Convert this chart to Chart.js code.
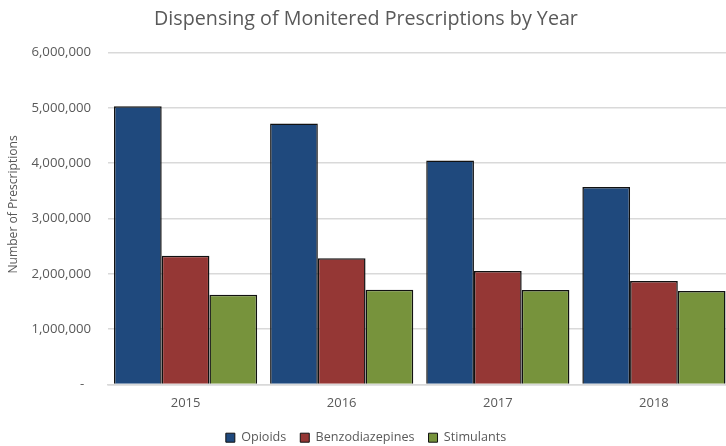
<!DOCTYPE html>
<html>
<head>
<meta charset="utf-8">
<script src="https://cdn.jsdelivr.net/npm/chart.js@4"></script>
<style>
  html, body { margin: 0; padding: 0; background: #fff; overflow: hidden; }
  #wrap { width: 726px; height: 446px; overflow: hidden; }
</style>
</head>
<body>
<div id="wrap">
  <canvas id="rxChart" width="732" height="454"></canvas>
</div>
<script>
// ==== Data ====
const years = ['2015', '2016', '2017', '2018'];
const opioids = [5030000, 4720000, 4050000, 3570000];
const benzodiazepines = [2325000, 2280000, 2050000, 1870000];
const stimulants = [1620000, 1710000, 1705000, 1690000];

const yTicks = [0, 1000000, 2000000, 3000000, 4000000, 5000000, 6000000];

// ==== Warna & font ====
const textColor = '#595959';
const gridColor = '#d9d9d9';
const fontFamily = '"Open Sans", "DejaVu Sans", sans-serif';

const ctx = document.getElementById('rxChart').getContext('2d');

new Chart(ctx, {
    type: 'bar',
    data: {
        labels: years,
        datasets: [
            { label: 'Opioids', data: opioids, backgroundColor: '#1F497D' },
            { label: 'Benzodiazepines', data: benzodiazepines, backgroundColor: '#953735' },
            { label: 'Stimulants', data: stimulants, backgroundColor: '#77933C' }
        ].map(ds => Object.assign(ds, {
            borderColor: '#111111',
            borderWidth: 1.5,
            categoryPercentage: 0.917,
            barPercentage: 1
        }))
    },
    options: {
        responsive: false,
        animation: false,
        plugins: {
            title: {
                display: true,
                text: 'Dispensing of Monitered Prescriptions by Year',
                color: textColor,
                font: { family: fontFamily, size: 19.7, weight: 'normal' },
                padding: { top: 7.2, bottom: 21.8 }
            },
            legend: {
                position: 'bottom',
                labels: {
                    color: textColor,
                    font: { family: fontFamily, size: 12.6 },
                    boxWidth: 9,
                    boxHeight: 9,
                    padding: 14,
                    generateLabels: chart => chart.data.datasets.map((ds, i) => ({
                        text: ds.label,
                        fillStyle: ds.backgroundColor,
                        strokeStyle: '#111111',
                        lineWidth: 1,
                        fontColor: textColor,
                        datasetIndex: i
                    }))
                }
            },
            tooltip: { enabled: false }
        },
        scales: {
            x: {
                grid: { display: false, drawTicks: false },
                border: { display: true, color: gridColor, width: 1.5 },
                ticks: {
                    color: textColor,
                    font: { family: fontFamily, size: 13 },
                    padding: 11
                },
                afterFit: scale => { scale.height = 33; }
            },
            y: {
                min: 0,
                max: 6000000,
                afterBuildTicks: scale => { scale.ticks = yTicks.map(v => ({ value: v })); },
                grid: { color: gridColor, lineWidth: 1.5, drawTicks: false },
                border: { display: false },
                ticks: {
                    color: textColor,
                    font: { family: fontFamily, size: 13.2 },
                    padding: 16.5,
                    callback: v => v === 0 ? '-  ' : v.toLocaleString('en-US')
                },
                title: {
                    display: true,
                    // spasi di depan menggeser judul sedikit ke atas seperti aslinya
                    text: '         Number of Prescriptions',
                    color: textColor,
                    font: { family: fontFamily, size: 12.1 },
                    padding: { top: 6, bottom: 0 }
                },
                afterFit: scale => { scale.width = 107.5; }
            }
        }
    }
});
</script>
</body>
</html>
